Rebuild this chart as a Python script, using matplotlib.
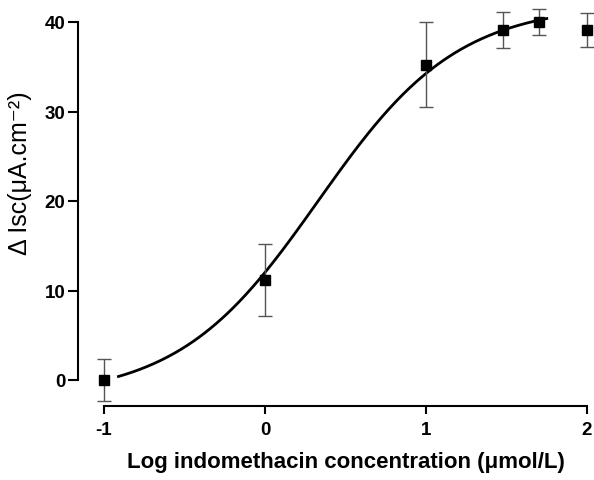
import numpy as np
import matplotlib
matplotlib.use("Agg")
import matplotlib.pyplot as plt

plt.rcParams['font.family'] = ['Liberation Sans', 'DejaVu Sans']

# data
log_conc = [-1.0, 0.0, 1.0, 1.477, 1.699, 2.0]
d_isc = [0.0, 11.2, 35.2, 39.1, 40.0, 39.1]
d_isc_err = [2.4, 4.0, 4.75, 2.0, 1.4, 1.9]
x_ticks = [-1, 0, 1, 2]
x_ticklabels = ['-1', '0', '1', '2']
y_ticks = [0, 10, 20, 30, 40]

# fitted dose-response (Hill) parameters, estimated from the drawn curve
fit_bottom = -2.0
fit_top = 42.0
fit_logec50 = 0.33
fit_slope = 1.0
fit_range = (-0.91, 1.75)

fig = plt.figure(figsize=(5.94, 4.81), dpi=100)
ax = fig.add_axes([104/594, 100/481, (587-104)/594, (381-23)/481])

xs = np.linspace(fit_range[0], fit_range[1], 300)
ys = fit_bottom + (fit_top - fit_bottom)/(1 + 10**((fit_logec50 - xs)*fit_slope))
ax.plot(xs, ys, color='black', lw=2, clip_on=False)

ax.errorbar(log_conc, d_isc, yerr=d_isc_err, fmt='none', ecolor='#555555',
            elinewidth=1, capsize=4.8, capthick=1, clip_on=False)
ax.plot(log_conc, d_isc, 's', color='black', ms=7, clip_on=False, zorder=5)

ax.set_xlim(-1, 2)
ax.set_ylim(0, 40)
ax.set_xticks(x_ticks)
ax.set_xticklabels(x_ticklabels)
ax.set_yticks(y_ticks)

for s in ['top', 'right']:
    ax.spines[s].set_visible(False)
for s in ['left', 'bottom']:
    ax.spines[s].set_position(('outward', 18.7))
    ax.spines[s].set_linewidth(1.5)

ax.tick_params(axis='y', length=7, width=1.5, pad=2, labelsize=13.5)
ax.tick_params(axis='x', length=6, width=1.5, pad=5, labelsize=13.5)
for lbl in ax.get_xticklabels() + ax.get_yticklabels():
    lbl.set_fontweight('bold')

ax.set_xlabel('Log indomethacin concentration (\u03bcmol/L)', fontsize=16,
              fontweight='bold', labelpad=9)
fig.text(20/594, 1 - 173/481, '\u0394 Isc(\u03bcA.cm\u207b\u00b2)', fontsize=18,
         rotation=90, ha='center', va='center')

fig.savefig('out.png', dpi=100)
